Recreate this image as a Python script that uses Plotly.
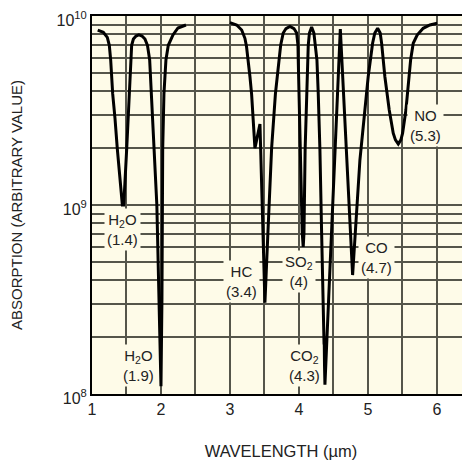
import math
import plotly.graph_objects as go

# absorption curve (None = gap between the two traced parts)
wavelength = [
    1.083, 1.164, 1.222, 1.251, 1.271, 1.30, 1.333, 1.367, 1.44, 1.46,
    1.503, 1.522, 1.541, 1.561, 1.575, 1.60, 1.638, 1.68, 1.725, 1.768,
    1.804, 1.836, 1.86, 1.90, 1.94, 2.0, 2.014, 2.025, 2.033, 2.043,
    2.072, 2.106, 2.174, 2.246, 2.362,
    None,
    3.0, 3.097, 3.17, 3.217, 3.24, 3.266, 3.29, 3.314, 3.338, 3.362,
    3.435, 3.507, 3.55, 3.604, 3.659, 3.71, 3.735, 3.772, 3.812, 3.87,
    3.928, 3.967, 3.986, 3.99, 4.0, 4.025, 4.048, 4.062, 4.073, 4.09,
    4.11, 4.126, 4.135, 4.152, 4.184, 4.217, 4.239, 4.261, 4.28, 4.304,
    4.329, 4.377, 4.6, 4.778, 4.884, 4.957, 5.004, 5.068, 5.10, 5.141,
    5.178, 5.199, 5.246, 5.309, 5.367, 5.399, 5.44, 5.478, 5.503, 5.551,
    5.594, 5.619, 5.657, 5.714, 5.801, 5.899, 6.004,
]
absorption = [
    8.43e9, 8.2e9, 7.71e9, 7.0e9, 5.85e9, 3.87e9, 2.88e9, 1.98e9, 1.0e9, 1.0e9,
    1.98e9, 2.88e9, 3.87e9, 5.85e9, 7.0e9, 7.55e9, 7.84e9, 7.94e9, 7.84e9, 7.55e9,
    7.0e9, 5.85e9, 3.87e9, 1.98e9, 1.0e9, 1.1e8, 3.15e8, 1.98e9, 2.88e9, 3.87e9,
    5.85e9, 7.0e9, 7.94e9, 8.64e9, 8.96e9,
    None,
    9.22e9, 8.96e9, 8.43e9, 7.62e9, 6.9e9, 5.85e9, 4.77e9, 3.85e9, 2.88e9, 2.0e9,
    2.68e9, 3.04e8, 7.1e8, 2.0e9, 3.87e9, 5.85e9, 7.0e9, 8.13e9, 8.58e9, 8.8e9,
    8.58e9, 8.13e9, 7.0e9, 5.85e9, 3.87e9, 1.98e9, 7.1e8, 6.0e8, 7.1e8, 1.98e9,
    3.87e9, 5.85e9, 7.0e9, 8.13e9, 8.75e9, 8.13e9, 7.0e9, 5.85e9, 3.87e9, 1.98e9,
    7.1e8, 1.12e8, 8.53e9, 4.26e8, 1.73e9, 3.18e9, 4.77e9, 7.17e9, 8.13e9, 8.61e9,
    8.13e9, 7.17e9, 4.77e9, 3.18e9, 2.4e9, 2.21e9, 2.1e9, 2.21e9, 2.4e9, 3.18e9,
    4.77e9, 5.85e9, 7.17e9, 7.93e9, 8.61e9, 8.96e9, 9.15e9,
]

# peak labels
label_text = ["H<sub>2</sub>O<br>(1.4)", "H<sub>2</sub>O<br>(1.9)", "HC<br>(3.4)",
              "SO<sub>2</sub><br>(4)", "CO<sub>2</sub><br>(4.3)", "CO<br>(4.7)",
              "NO<br>(5.3)"]
label_x = [1.435, 1.68, 3.174, 4.0, 4.087, 5.126, 5.836]
label_y = [7.38e8, 1.42e8, 3.96e8, 4.45e8, 1.41e8, 5.25e8, 2.65e9]

x_ticks = [1, 1.5, 2, 2.5, 3, 3.5, 4, 4.5, 5, 5.5, 6]
x_text = ["1", "", "2", "", "3", "", "4", "", "5", "", "6"]
y_ticks = [m * 10 ** e for e in (8, 9) for m in range(1, 10)] + [1e10]
y_text = ["10<sup>%d</sup>" % (8 + i // 9) if i % 9 == 0 else "" for i in range(18)] + ["10<sup>10</sup>"]

bg = "#FEFBE8"
grid = "#55554a"

fig = go.Figure()
fig.add_trace(go.Scatter(x=wavelength, y=absorption, mode="lines",
                         line=dict(color="black", width=3), connectgaps=False,
                         hoverinfo="skip"))

# annotations on a log axis take log10 positions
for t, x, y in zip(label_text, label_x, label_y):
    fig.add_annotation(x=x, y=math.log10(y), text=t, showarrow=False,
                       font=dict(size=15, color="#222"), bgcolor=bg, borderpad=2)

# page body has an 8px margin, so the figure is sized to the visible area
fig.update_layout(
    width=462, height=459,
    margin=dict(l=84, r=0, t=8, b=73),
    paper_bgcolor="white", plot_bgcolor=bg,
    showlegend=False,
    font=dict(family="Liberation Sans, Arial, sans-serif", size=16, color="#222"),
    xaxis=dict(range=[1, 6.48], tickvals=x_ticks, ticktext=x_text,
               showgrid=True, gridcolor=grid, gridwidth=1.5,
               showline=True, linecolor="black", linewidth=2, mirror=True,
               ticks="", zeroline=False, automargin=False,
               ticklabeloverflow="allow", tickfont=dict(size=16),
               title=dict(text="WAVELENGTH (µm)", standoff=28, font=dict(size=16.5))),
    yaxis=dict(type="log", range=[8, 10], tickvals=y_ticks, ticktext=y_text,
               showgrid=True, gridcolor=grid, gridwidth=1.5,
               showline=True, linecolor="black", linewidth=2,
               ticks="", zeroline=False, automargin=False,
               ticklabeloverflow="allow", ticklabelshift=4, tickfont=dict(size=16),
               title=dict(text="ABSORPTION (ARBITRARY VALUE)", standoff=32, font=dict(size=15))),
)

fig.write_html("out.html")
